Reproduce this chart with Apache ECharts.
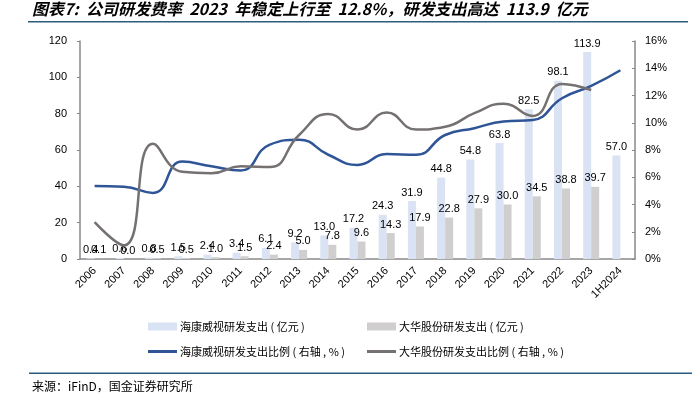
<!DOCTYPE html>
<html><head><meta charset="utf-8">
<script src="https://cdn.jsdelivr.net/npm/echarts@6/dist/echarts.min.js"></script>
<style>html,body{margin:0;padding:0;background:#fff}#c{width:692px;height:399px}</style>
</head><body><div id="c"></div>
<script>
var categories = ['2006','2007','2008','2009','2010','2011','2012','2013','2014','2015','2016','2017','2018','2019','2020','2021','2022','2023','1H2024'];
var hikSpend = [0.4,0.6,0.8,1.5,2.4,3.4,6.1,9.2,13.0,17.2,24.3,31.9,44.8,54.8,63.8,82.5,98.1,113.9,57.0];
var dahuaSpend = [0.1,0.0,0.5,0.5,1.0,1.5,2.4,5.0,7.8,9.6,14.3,17.9,22.8,27.9,30.0,34.5,38.8,39.7,null];
var hikRatio = [5.35,5.3,4.85,7.15,6.8,6.5,8.4,8.75,7.65,6.9,7.7,7.65,9.1,9.6,10.1,10.2,11.8,12.7,13.85];
var dahuaRatio = [2.7,1.0,8.45,6.4,6.3,6.8,6.75,9.1,10.65,9.5,10.75,9.5,9.7,10.7,11.4,10.5,12.85,12.4,null];
var leftTicks = {min:0,max:120,interval:20};
var rightTicks = {min:0,max:16,interval:2};
var names = ['海康威视研发支出 ( 亿元 )','大华股份研发支出 ( 亿元 )','海康威视研发支出比例 ( 右轴 , % )','大华股份研发支出比例 ( 右轴 , % )'];

var FONT = 'Liberation Sans, Arial, Noto Sans CJK SC, sans-serif';
var chart = echarts.init(document.getElementById('c'));
var axisGray = '#898989';
function lg(name, left, top, h){
  return {data:[{name:name, icon:'rect'}], left:left, top:top, itemWidth:29, itemHeight:h, itemGap:0,
    textStyle:{fontSize:11, color:'#000', fontFamily:'Noto Sans CJK SC, sans-serif', padding:[0,0,0,-2]}};
}
chart.setOption({
  animation:false,
  textStyle:{fontFamily:FONT},
  grid:{left:80, right:57, top:41, bottom:140},
  legend:[
    lg(names[0],143,316,8),
    lg(names[1],362,316,8),
    lg(names[2],143,341,3),
    lg(names[3],362,341,3)
  ],
  graphic:[
    {type:'text', left:32, top:1, style:{text:'图表7:  公司研发费率  2023  年稳定上行至  12.8%，研发支出高达  113.9  亿元', font:'italic bold 16px "Noto Sans CJK SC", sans-serif', fill:'#000'}},
    {type:'rect', shape:{x:28,y:21,width:660,height:1.5}, style:{fill:'#2b5b7e'}},
    {type:'rect', shape:{x:29,y:372.5,width:663,height:1.5}, style:{fill:'#2b5b7e'}},
    {type:'text', left:32, top:380, style:{text:'来源：iFinD，国金证券研究所', font:'12px "Noto Sans CJK SC", sans-serif', fill:'#000'}}
  ],
  xAxis:{type:'category', data:categories, boundaryGap:true,
    axisLine:{lineStyle:{color:axisGray, width:1.5}}, axisTick:{show:false},
    axisLabel:{rotate:45, fontSize:11, color:'#000', margin:10, interval:0}},
  yAxis:[
    {type:'value', min:leftTicks.min, max:leftTicks.max, interval:leftTicks.interval, splitLine:{show:false},
     axisLine:{show:true, lineStyle:{color:axisGray, width:1.5}}, axisTick:{show:true, length:3, lineStyle:{color:axisGray}},
     axisLabel:{fontSize:11, color:'#000', margin:13}},
    {type:'value', min:rightTicks.min, max:rightTicks.max, interval:rightTicks.interval, splitLine:{show:false}, position:'right',
     axisLine:{show:true, lineStyle:{color:axisGray, width:1.5}}, axisTick:{show:true, inside:true, length:3, lineStyle:{color:axisGray}},
     axisLabel:{fontSize:11, color:'#000', margin:10, formatter:function(v){return v+'%';}}}
  ],
  series:[
    {name:names[0], type:'bar', data:hikSpend, barWidth:8, barGap:'0%', itemStyle:{color:'#dae3f3'},
     label:{show:true, position:'top', distance:3, fontSize:11, color:'#000', formatter:function(p){return p.value==null?'':p.value.toFixed(1);}}},
    {name:names[1], type:'bar', data:dahuaSpend, barWidth:8, itemStyle:{color:'#d0cece'},
     label:{show:true, position:'top', distance:3, fontSize:11, color:'#000', formatter:function(p){return p.value==null?'':p.value.toFixed(1);}}},
    {name:names[2], type:'line', yAxisIndex:1, data:hikRatio, smooth:0.5, symbol:'none',
     lineStyle:{color:'#2f5597', width:2.5}, itemStyle:{color:'#2f5597'}},
    {name:names[3], type:'line', yAxisIndex:1, data:dahuaRatio, smooth:0.5, symbol:'none',
     lineStyle:{color:'#767171', width:2.5}, itemStyle:{color:'#767171'}}
  ]
});
</script></body></html>
